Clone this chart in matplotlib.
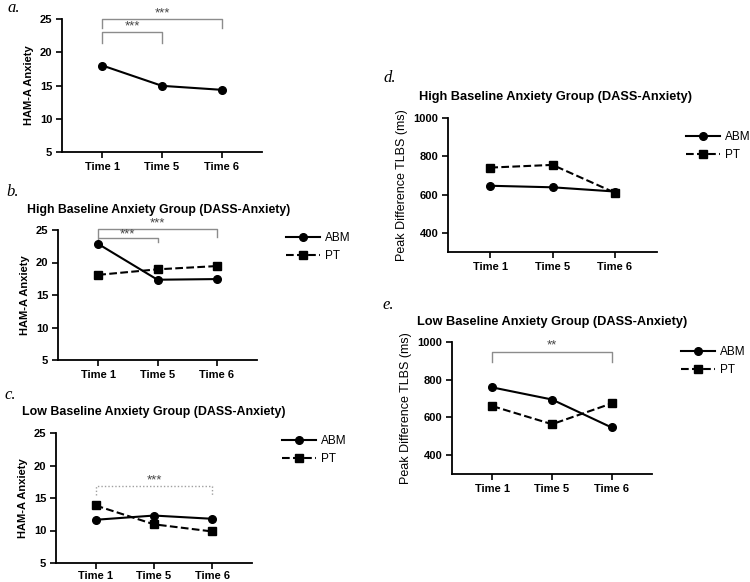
import matplotlib
matplotlib.use('Agg')
import matplotlib.pyplot as plt

plt.rcParams['font.family'] = ['Liberation Sans', 'DejaVu Sans']

# Dati
times = ['Time 1', 'Time 5', 'Time 6']

a_all = [18.0, 14.95, 14.35]

b_abm = [22.85, 17.35, 17.45]
b_pt = [18.1, 18.95, 19.45]

c_abm = [11.65, 12.3, 11.8]
c_pt = [13.85, 10.95, 9.85]

d_abm = [646, 638, 616]
d_pt = [741, 755, 610]

e_abm = [759, 695, 547]
e_pt = [660, 564, 674]

W, H = 750, 582
fig = plt.figure(figsize=(W / 100, H / 100), dpi=100)


def px_axes(left, right, top, bottom):
    return fig.add_axes([left / W, 1 - bottom / H, (right - left) / W, (bottom - top) / H])


ABM_STYLE = dict(color='black', linestyle='-', marker='o', markersize=5.5, linewidth=1.5,
                 label='ABM', clip_on=False, zorder=3)
PT_STYLE = dict(color='black', linestyle='--', marker='s', markersize=5.5, linewidth=1.5,
                label='PT', clip_on=False, zorder=3)


def setup(ax, ylim, yticks, ylabel, ylabel_bold=True, ylabel_size=8, xpad=3):
    ax.set_xlim(-0.68, 2.68)
    ax.set_ylim(*ylim)
    ax.set_yticks(yticks)
    ax.set_xticks(range(len(times)))
    ax.set_xticklabels(times)
    for s in ['top', 'right']:
        ax.spines[s].set_visible(False)
    for s in ['left', 'bottom']:
        ax.spines[s].set_linewidth(1.3)
    ax.tick_params(length=4, width=1.2, labelsize=8, pad=3)
    ax.tick_params(axis='x', pad=xpad)
    for t in ax.get_xticklabels() + ax.get_yticklabels():
        t.set_fontweight('bold')
    ax.set_ylabel(ylabel, fontsize=ylabel_size,
                  fontweight='bold' if ylabel_bold else 'normal', labelpad=4)


def bracket(ax, x0, x1, top, end, text, ytext, dotted=False):
    style = dict(color='#8c8c8c', linewidth=1.0, clip_on=False, zorder=2)
    if dotted:
        style.update(color='#a0a0a0', linestyle=(0, (1, 1.5)))
    ax.plot([x0, x0, x1, x1], [end, top, top, end], **style)
    ax.text((x0 + x1) / 2, ytext, text, ha='center', va='center', fontsize=9.5,
            color='#444444', clip_on=False)


def legend(ax, x, y):
    ax.legend(loc='upper left', bbox_to_anchor=(x / W, 1 - y / H),
              bbox_transform=fig.transFigure, frameon=False, fontsize=8.5,
              handlelength=2.9, handletextpad=0.4, labelspacing=0.55,
              borderpad=0, borderaxespad=0)


def panel_label(x, y, s):
    fig.text(x / W, 1 - y / H, s, fontsize=12, style='italic',
             family=['Liberation Serif', 'DejaVu Serif'], va='center')


def title(x, y, s, size):
    fig.text(x / W, 1 - y / H, s, fontsize=size, fontweight='bold', va='center')


# a.
ax = px_axes(62, 262, 19, 152)
ax.plot(range(3), a_all, **ABM_STYLE)
setup(ax, (5, 25), [5, 10, 15, 20, 25], 'HAM-A Anxiety')
bracket(ax, 0, 1, 23.0, 21.4, '***', 23.9)
bracket(ax, 0, 2, 25.0, 23.6, '***', 25.8)
panel_label(7, 8, 'a.')

# b.
ax = px_axes(58, 257, 230, 360)
ax.plot(range(3), b_abm, **ABM_STYLE)
ax.plot(range(3), b_pt, **PT_STYLE)
setup(ax, (5, 25), [5, 10, 15, 20, 25], 'HAM-A Anxiety')
bracket(ax, 0, 1, 23.8, 23.2, '***', 24.3)
bracket(ax, 0, 2, 25.1, 23.9, '***', 26.0)
legend(ax, 286, 232)
panel_label(6, 192, 'b.')
title(27, 210, 'High Baseline Anxiety Group (DASS-Anxiety)', 8.8)

# c.
ax = px_axes(56, 252, 433, 563)
ax.plot(range(3), c_abm, **ABM_STYLE)
ax.plot(range(3), c_pt, **PT_STYLE)
setup(ax, (5, 25), [5, 10, 15, 20, 25], 'HAM-A Anxiety', xpad=1.5)
bracket(ax, 0, 2, 16.9, 15.5, '***', 17.7, dotted=True)
legend(ax, 282, 435)
panel_label(4, 395, 'c.')
title(22, 412, 'Low Baseline Anxiety Group (DASS-Anxiety)', 8.9)

# d.
ax = px_axes(448, 657, 118, 252)
ax.plot(range(3), d_abm, **ABM_STYLE)
ax.plot(range(3), d_pt, **PT_STYLE)
setup(ax, (300, 1000), [400, 600, 800, 1000], 'Peak Difference TLBS (ms)',
      ylabel_bold=False, ylabel_size=9)
legend(ax, 686, 131)
panel_label(384, 78, 'd.')
title(419, 97, 'High Baseline Anxiety Group (DASS-Anxiety)', 9.15)

# e.
ax = px_axes(452, 652, 342, 474)
ax.plot(range(3), e_abm, **ABM_STYLE)
ax.plot(range(3), e_pt, **PT_STYLE)
setup(ax, (300, 1000), [400, 600, 800, 1000], 'Peak Difference TLBS (ms)',
      ylabel_bold=False, ylabel_size=9)
bracket(ax, 0, 2, 947, 895, '**', 982)
legend(ax, 681, 346)
panel_label(382, 305, 'e.')
title(417, 322, 'Low Baseline Anxiety Group (DASS-Anxiety)', 9.15)

plt.savefig('out.png', dpi=100)
